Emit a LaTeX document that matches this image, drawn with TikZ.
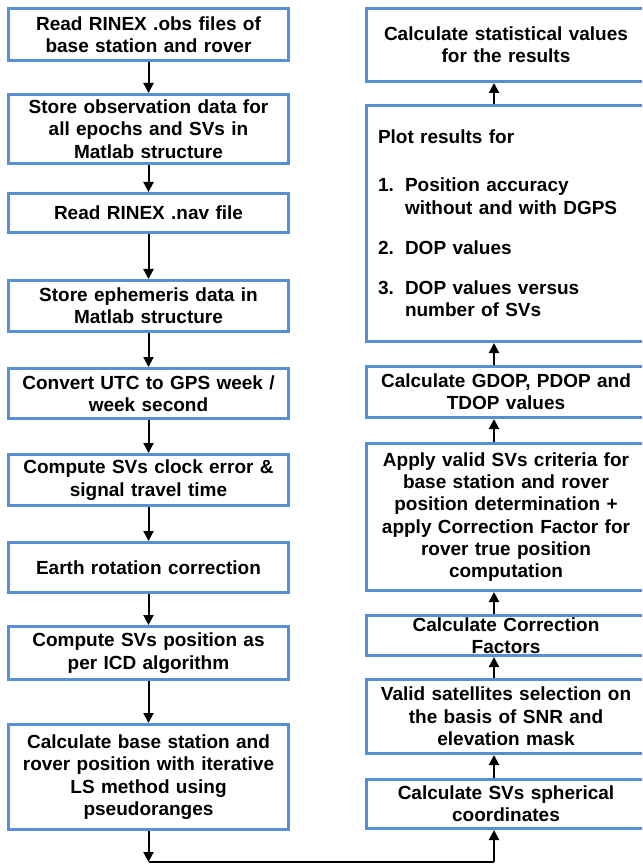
\documentclass[tikz,border=0pt]{standalone}
\usepackage{fontspec}
\setmainfont{Liberation Sans}
\usetikzlibrary{arrows.meta,calc}
\definecolor{boxblue}{RGB}{88,144,214}
\begin{document}
\begin{tikzpicture}[x=1pt,y=-1pt,
  box/.style={draw=boxblue, line width=3pt, fill=white, inner sep=0pt, align=center,
    text width=272pt, font=\bfseries\fontsize{19}{22.3}\selectfont},
  lbox/.style={box, minimum width=280pt},
  rbox/.style={box, minimum width=279pt},
  arr/.style={line width=2pt, -{Triangle[length=10pt,width=10pt]}},
  lnk/.style={line width=2pt}]
\useasboundingbox (0,0) rectangle (642,866);
\fill[white] (0,0) rectangle (642,866);
\clip (0,0) rectangle (642,866);

% left column
\node[lbox, minimum height=52pt] (l1) at (148.5,34.5) {Read RINEX .obs files of\\base station and rover};
\node[lbox, minimum height=69pt] (l2) at (148.5,129) {Store observation data for\\all epochs and SVs in\\Matlab structure};
\node[lbox, minimum height=39pt] (l3) at (148.5,213) {Read RINEX .nav file};
\node[lbox, minimum height=51pt] (l4) at (148.5,306) {Store ephemeris data in\\Matlab structure};
\node[lbox, minimum height=50pt] (l5) at (148.5,393.5) {Convert UTC to GPS week /\\week second};
\node[lbox, minimum height=51pt] (l6) at (148.5,480) {Compute SVs clock error \&\\signal travel time};
\node[lbox, minimum height=50pt] (l7) at (148.5,567.5) {Earth rotation correction};
\node[lbox, minimum height=53pt] (l8) at (148.5,653) {Compute SVs position as\\per ICD algorithm};
\node[lbox, minimum height=105pt] (l9) at (148.5,777) {Calculate base station and\\rover position with iterative\\LS method using\\pseudoranges};

% right column
\node[rbox, minimum height=73pt] (r1) at (506,45) {Calculate statistical values\\for the results};
\node[rbox, minimum height=236pt, align=left, text width=256pt] (r2) at (506,223.5)
  {Plot results for\\[25.7pt]
   \makebox[27pt][l]{1.}Position accuracy\\\hspace*{27pt}without and with DGPS\\[17.7pt]
   \makebox[27pt][l]{2.}DOP values\\[17.7pt]
   \makebox[27pt][l]{3.}DOP values versus\\\hspace*{27pt}number of SVs};
\node[rbox, minimum height=51pt] (r3) at (506,392) {Calculate GDOP, PDOP and\\TDOP values};
\node[rbox, minimum height=147pt] (r4) at (506,517) {Apply valid SVs criteria for\\base station and rover\\position determination +\\apply Correction Factor for\\rover true position\\computation};
\node[rbox, minimum height=40pt] (r5) at (506,635.5) {Calculate Correction\\Factors};
\node[rbox, minimum height=74pt] (r6) at (506,716.5) {Valid satellites selection on\\the basis of SNR and\\elevation mask};
\node[rbox, minimum height=49pt] (r7) at (506,804) {Calculate SVs spherical\\coordinates};

% connectors
\draw[arr] (l1) -- (l2);
\draw[arr] (l2) -- (l3);
\draw[arr] (l3) -- (l4);
\draw[arr] (l4) -- (l5);
\draw[arr] (l5) -- (l6);
\draw[arr] (l6) -- (l7);
\draw[arr] (l7) -- (l8);
\draw[arr] (l8) -- (l9);

\coordinate (xr) at (494,0);
\coordinate (bl) at (148.5,862);
\coordinate (br) at (494,862);
\draw[arr] (l9.south) -- (bl);
\draw[lnk] (bl) -- (br);
\draw[arr] (br) -- (r7.south -| xr);
\draw[arr] (r7.north -| xr) -- (r6.south -| xr);
\draw[arr] (r6.north -| xr) -- (r5.south -| xr);
\draw[arr] (r5.north -| xr) -- (r4.south -| xr);
\draw[arr] (r4.north -| xr) -- (r3.south -| xr);
\draw[arr] (r3.north -| xr) -- (r2.south -| xr);
\draw[arr] (r2.north -| xr) -- (r1.south -| xr);
\end{tikzpicture}
\end{document}
